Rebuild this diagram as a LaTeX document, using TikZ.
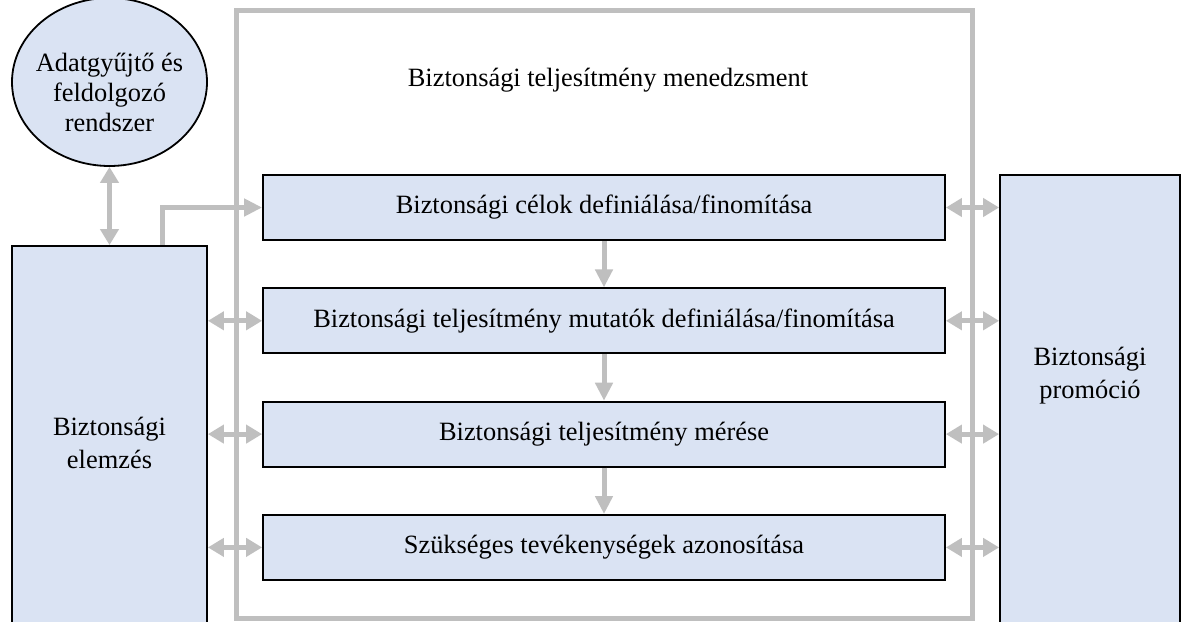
\documentclass[tikz,border=0pt]{standalone}
\usepackage{fontspec}
\setmainfont{Liberation Serif}
\usetikzlibrary{positioning,arrows.meta,shapes.geometric}
\definecolor{boxblue}{HTML}{DAE3F3}
\definecolor{linegray}{HTML}{BFBFBF}

\begin{document}
\begin{tikzpicture}[
    x=0.5pt, y=-0.5pt,
    node distance=23.25pt and 5mm,
    font=\fontsize{13.2}{15}\selectfont,
    step box/.style={draw, line width=0.9pt, fill=boxblue, align=center, minimum width=341pt, minimum height=32.5pt, inner sep=0pt},
    side box/.style={draw, line width=0.9pt, fill=boxblue, align=center, inner sep=0pt},
    frame box/.style={draw=linegray, line width=2.5pt, inner sep=0pt},
    garr/.style={draw=linegray, line width=2.5pt, -{Triangle[length=9pt,width=8.5pt]}},
    gdarr/.style={draw=linegray, line width=2.5pt, {Triangle[length=8pt,width=9pt]}-{Triangle[length=8pt,width=9pt]}}
]
\clip (0,0) rectangle (1192,621);
\fill[white] (0,0) rectangle (1192,621);
% frame of the management block
\node[frame box, minimum width=368pt, minimum height=304pt] (frame) at (604,314) {};
\node (title) at (608,80) {Biztonsági teljesítmény menedzsment};
% the four steps
\node[step box] (cel) at (604,207.5) {Biztonsági célok definiálása/finomítása};
\node[step box, below=of cel] (mut) {Biztonsági teljesítmény mutatók definiálása/finomítása};
\node[step box, below=of mut] (mer) {Biztonsági teljesítmény mérése};
\node[step box, below=of mer] (azo) {Szükséges tevékenységek azonosítása};
\foreach \a/\b in {cel/mut, mut/mer, mer/azo}
    \draw[garr] (\a) -- (\b);
% side blocks
\node[side box, ellipse, minimum width=97.5pt, minimum height=84pt,
      label={[align=center, yshift=-5pt]center:Adatgyűjtő és\\feldolgozó\\rendszer}] (ada) at (109.5,82) {};
\node[side box, minimum width=97.5pt, minimum height=197pt, font=\fontsize{13.2}{16.5}\selectfont] (elem) at (109.5,443) {Biztonsági\\elemzés};
\node[side box, minimum width=90pt, minimum height=242.5pt,
      label={[align=center, yshift=21pt, font=\fontsize{13.2}{16.5}\selectfont]center:Biztonsági\\promóció}] (prom) at (1090,417.5) {};
\draw[gdarr] (ada) -- (elem);
\draw[garr] ([xshift=26.25pt]elem.north) |- (cel.west);
\foreach \b in {mut, mer, azo}
    \draw[gdarr] (elem.east |- \b) -- (\b.west);
\foreach \b in {cel, mut, mer, azo}
    \draw[gdarr] (\b.east) -- (\b.east -| prom.west);
\end{tikzpicture}
\end{document}
